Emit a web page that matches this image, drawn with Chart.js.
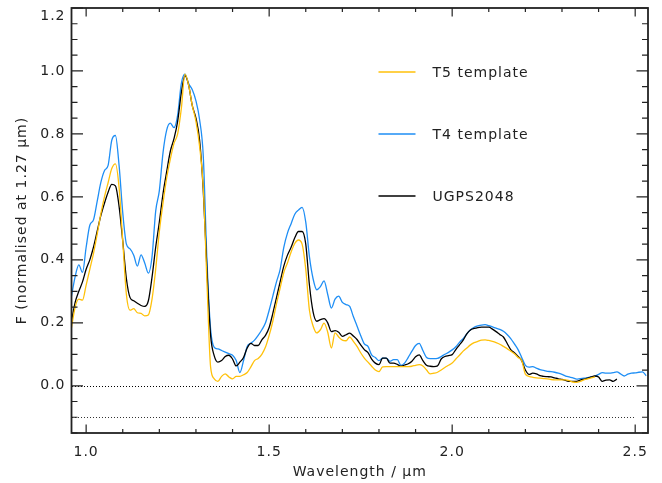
<!DOCTYPE html>
<html lang="en">
<head>
    <meta charset="UTF-8">
    <title>UGPS2048 spectrum vs T4/T5 templates</title>
    <style>
        html, body { margin: 0; padding: 0; background: #fff; }
        #wrap { width: 662px; height: 483px; }
    </style>
</head>
<body>
    <div id="wrap">
        <canvas id="spectrumChart" width="662" height="483"></canvas>
    </div>

    <script src="https://cdn.jsdelivr.net/npm/chart.js"></script>

    <script>
        // wavelength grid (micron)
        const wavelength = [
            0.96, 0.97, 0.98, 0.99, 1.00, 1.01, 1.02, 1.03, 1.04, 1.05,
            1.06, 1.07, 1.08, 1.09, 1.10, 1.11, 1.12, 1.13, 1.14, 1.15,
            1.16, 1.17, 1.18, 1.19, 1.20, 1.21, 1.22, 1.23, 1.24, 1.25,
            1.26, 1.27, 1.28, 1.29, 1.30, 1.31, 1.32, 1.33, 1.34, 1.35,
            1.36, 1.37, 1.38, 1.39, 1.40, 1.41, 1.42, 1.43, 1.44, 1.45,
            1.46, 1.47, 1.48, 1.49, 1.50, 1.51, 1.52, 1.53, 1.54, 1.55,
            1.56, 1.57, 1.58, 1.59, 1.60, 1.61, 1.62, 1.63, 1.64, 1.65,
            1.66, 1.67, 1.68, 1.69, 1.70, 1.71, 1.72, 1.73, 1.74, 1.75,
            1.76, 1.77, 1.78, 1.79, 1.80, 1.81, 1.82, 1.83, 1.84, 1.85,
            1.86, 1.87, 1.88, 1.89, 1.90, 1.91, 1.92, 1.93, 1.94, 1.95,
            1.96, 1.97, 1.98, 1.99, 2.00, 2.01, 2.02, 2.03, 2.04, 2.05,
            2.06, 2.07, 2.08, 2.09, 2.10, 2.11, 2.12, 2.13, 2.14, 2.15,
            2.16, 2.17, 2.18, 2.19, 2.20, 2.21, 2.22, 2.23, 2.24, 2.25,
            2.26, 2.27, 2.28, 2.29, 2.30, 2.31, 2.32, 2.33, 2.34, 2.35,
            2.36, 2.37, 2.38, 2.39, 2.40, 2.41, 2.42, 2.43, 2.44, 2.45,
            2.46, 2.47, 2.48, 2.49, 2.50, 2.51, 2.52, 2.53
        ];

        const t5Template = [
            0.185, 0.250, 0.275, 0.272, 0.320, 0.370, 0.420, 0.480, 0.545, 0.600,
            0.645, 0.690, 0.705, 0.630, 0.460, 0.290, 0.240, 0.245, 0.232, 0.230,
            0.222, 0.225, 0.275, 0.370, 0.490, 0.580, 0.660, 0.720, 0.770, 0.800,
            0.880, 0.990, 0.955, 0.890, 0.840, 0.760, 0.630, 0.330, 0.060, 0.022,
            0.014, 0.030, 0.038, 0.028, 0.022, 0.030, 0.030, 0.035, 0.042, 0.060,
            0.080, 0.087, 0.100, 0.123, 0.160, 0.205, 0.260, 0.310, 0.360, 0.390,
            0.425, 0.452, 0.463, 0.450, 0.370, 0.240, 0.190, 0.168, 0.178, 0.199,
            0.170, 0.120, 0.168, 0.155, 0.145, 0.143, 0.155, 0.141, 0.125, 0.105,
            0.088, 0.075, 0.062, 0.050, 0.045, 0.060, 0.061, 0.061, 0.061, 0.061,
            0.061, 0.061, 0.061, 0.062, 0.065, 0.067, 0.063, 0.050, 0.038, 0.040,
            0.043, 0.050, 0.058, 0.065, 0.072, 0.085, 0.097, 0.110, 0.120, 0.130,
            0.137, 0.141, 0.145, 0.146, 0.144, 0.141, 0.137, 0.132, 0.125, 0.118,
            0.110, 0.102, 0.090, 0.080, 0.037, 0.030, 0.027, 0.025, 0.024, 0.023,
            0.022, 0.020, 0.019, 0.019, 0.019, 0.019, 0.016, 0.012, 0.011, 0.014,
            0.019, 0.022, 0.025, 0.028, null, null, null, null, null, null,
            null, null, null, null, null, null, null, null
        ];

        const t4Template = [
            0.285, 0.347, 0.384, 0.360, 0.440, 0.510, 0.527, 0.585, 0.645, 0.683,
            0.700, 0.780, 0.795, 0.700, 0.550, 0.450, 0.435, 0.415, 0.380, 0.416,
            0.390, 0.358, 0.410, 0.555, 0.620, 0.740, 0.812, 0.834, 0.820, 0.860,
            0.960, 0.990, 0.960, 0.940, 0.905, 0.845, 0.730, 0.400, 0.180, 0.122,
            0.117, 0.112, 0.107, 0.102, 0.097, 0.080, 0.042, 0.080, 0.125, 0.135,
            0.145, 0.160, 0.178, 0.200, 0.240, 0.285, 0.330, 0.370, 0.440, 0.485,
            0.515, 0.545, 0.558, 0.567, 0.520, 0.410, 0.340, 0.305, 0.315, 0.333,
            0.290, 0.247, 0.275, 0.285, 0.265, 0.258, 0.252, 0.220, 0.190, 0.160,
            0.133, 0.125, 0.098, 0.090, 0.080, 0.088, 0.088, 0.078, 0.083, 0.083,
            0.065, 0.072, 0.090, 0.110, 0.128, 0.135, 0.112, 0.090, 0.086, 0.086,
            0.087, 0.093, 0.100, 0.106, 0.114, 0.124, 0.138, 0.150, 0.165, 0.178,
            0.186, 0.190, 0.193, 0.194, 0.191, 0.187, 0.183, 0.179, 0.173, 0.163,
            0.150, 0.133, 0.115, 0.090, 0.065, 0.059, 0.061, 0.056, 0.051, 0.049,
            0.046, 0.045, 0.043, 0.040, 0.036, 0.031, 0.028, 0.025, 0.021, 0.023,
            0.024, 0.026, 0.028, 0.031, 0.036, 0.042, 0.040, 0.040, 0.042, 0.044,
            0.038, 0.031, 0.037, 0.040, 0.041, 0.043, 0.044, 0.032
        ];

        const ugps2048 = [
            0.205, 0.265, 0.300, 0.330, 0.370, 0.400, 0.440, 0.490, 0.540, 0.580,
            0.615, 0.640, 0.635, 0.570, 0.460, 0.340, 0.280, 0.270, 0.262, 0.255,
            0.252, 0.270, 0.345, 0.440, 0.520, 0.610, 0.680, 0.745, 0.785, 0.840,
            0.930, 0.985, 0.955, 0.890, 0.850, 0.780, 0.620, 0.370, 0.160, 0.095,
            0.075, 0.080, 0.093, 0.097, 0.085, 0.063, 0.075, 0.090, 0.120, 0.135,
            0.128, 0.128, 0.146, 0.160, 0.185, 0.230, 0.280, 0.330, 0.380, 0.415,
            0.440, 0.470, 0.490, 0.490, 0.450, 0.320, 0.235, 0.205, 0.210, 0.213,
            0.200, 0.172, 0.175, 0.170, 0.157, 0.162, 0.167, 0.158, 0.147, 0.130,
            0.115, 0.105, 0.085, 0.072, 0.067, 0.088, 0.088, 0.072, 0.072, 0.068,
            0.062, 0.066, 0.070, 0.078, 0.092, 0.098, 0.080, 0.065, 0.062, 0.061,
            0.063, 0.085, 0.093, 0.096, 0.099, 0.115, 0.130, 0.145, 0.165, 0.177,
            0.182, 0.185, 0.186, 0.186, 0.186, 0.180, 0.172, 0.163, 0.155, 0.135,
            0.115, 0.105, 0.093, 0.080, 0.050, 0.036, 0.040, 0.038, 0.032, 0.030,
            0.029, 0.028, 0.025, 0.022, 0.020, 0.017, 0.014, 0.014, 0.014, 0.018,
            0.021, 0.024, 0.028, 0.031, 0.028, 0.014, 0.018, 0.019, 0.014, 0.021,
            null, null, null, null, null, null, null, null
        ];

        const xTicks = [1.0, 1.5, 2.0, 2.5];
        const yTicks = [0.0, 0.2, 0.4, 0.6, 0.8, 1.0, 1.2];
        const refLevels = [0.0, -0.1];     // dotted guide lines
        const refEnds = [2.5, 2.5];
        const refColors = ['#000', '#333'];

        const seriesNames = ['T5 template', 'T4 template', 'UGPS2048'];
        const seriesColors = ['#ffc10a', '#1e8ef5', '#000000'];

        const FONT = '"DejaVu Sans", sans-serif';
        const INK = '#222';

        function toPoints(values) {
            return wavelength.map((w, i) => ({ x: w, y: values[i] })).filter(p => p.y !== null);
        }

        // IDL-style box: ticks pointing inward on all four sides, dotted guides, legend
        const idlFrame = {
            id: 'idlFrame',
            beforeDraw(chart) {
                chart.ctx.letterSpacing = '1px';
            },
            beforeDatasetsDraw(chart) {
                const { ctx, chartArea: a, scales: { x, y } } = chart;
                ctx.save();
                ctx.lineWidth = 1;
                ctx.setLineDash([1, 2]);
                refLevels.forEach((lv, i) => {
                    const py = Math.round(y.getPixelForValue(lv)) + 0.5;
                    ctx.strokeStyle = refColors[i];
                    ctx.beginPath();
                    ctx.moveTo(Math.round(a.left), py);
                    ctx.lineTo(Math.round(x.getPixelForValue(refEnds[i])), py);
                    ctx.stroke();
                });
                ctx.restore();
            },
            afterDatasetsDraw(chart) {
                const { ctx, chartArea: a, scales: { x, y } } = chart;
                ctx.save();
                ctx.strokeStyle = INK;
                ctx.lineWidth = 1.2;

                // x ticks, bottom and top
                for (let k = 10; k <= 25; k++) {
                    const v = k / 10;
                    const px = x.getPixelForValue(v);
                    const len = (k % 5 === 0) ? 8.5 : 4;
                    ctx.beginPath();
                    ctx.moveTo(px, a.bottom); ctx.lineTo(px, a.bottom - len);
                    ctx.moveTo(px, a.top); ctx.lineTo(px, a.top + len);
                    ctx.stroke();
                }
                // y ticks, left and right
                for (let k = -3; k <= 24; k++) {
                    const v = k / 20;
                    const py = y.getPixelForValue(v);
                    const len = (k % 4 === 0) ? 11.5 : 6;
                    ctx.beginPath();
                    ctx.moveTo(a.left, py); ctx.lineTo(a.left + len, py);
                    ctx.moveTo(a.right, py); ctx.lineTo(a.right - len, py);
                    ctx.stroke();
                }

                ctx.lineWidth = 1.8;
                ctx.strokeRect(a.left, a.top, a.right - a.left, a.bottom - a.top);

                // legend
                ctx.font = '14px ' + FONT;
                ctx.letterSpacing = '1px';
                ctx.textBaseline = 'middle';
                ctx.textAlign = 'left';
                seriesNames.forEach((name, i) => {
                    const ly = a.top + 64 + i * 62;
                    ctx.strokeStyle = seriesColors[i];
                    ctx.lineWidth = 1.4;
                    ctx.beginPath();
                    ctx.moveTo(a.left + 307, ly);
                    ctx.lineTo(a.left + 344, ly);
                    ctx.stroke();
                    ctx.fillStyle = INK;
                    ctx.fillText(name, a.left + 361, ly + 1);
                });
                ctx.restore();
            }
        };

        const ctx = document.getElementById('spectrumChart').getContext('2d');
        const chart = new Chart(ctx, {
            type: 'line',
            data: {
                datasets: [
                    { label: seriesNames[0], data: toPoints(t5Template), borderColor: seriesColors[0] },
                    { label: seriesNames[2], data: toPoints(ugps2048), borderColor: seriesColors[2] },
                    { label: seriesNames[1], data: toPoints(t4Template), borderColor: seriesColors[1] }
                ]
            },
            options: {
                responsive: false,
                animation: false,
                layout: { padding: { left: 0, top: 8, right: 14, bottom: 0 } },
                elements: {
                    point: { radius: 0 },
                    line: { borderWidth: 1.3, cubicInterpolationMode: 'monotone', fill: false }
                },
                plugins: {
                    legend: { display: false },
                    tooltip: { enabled: false }
                },
                scales: {
                    x: {
                        type: 'linear',
                        min: 0.96,
                        max: 2.535,
                        afterBuildTicks: s => { s.ticks = xTicks.map(v => ({ value: v })); },
                        afterFit: s => {
                            s.height = 50;
                            s.paddingLeft = 0; s.paddingRight = 0;
                        },
                        grid: { display: false, drawTicks: false },
                        border: { display: false },
                        ticks: {
                            padding: 11,
                            color: INK,
                            font: { family: FONT, size: 14 },
                            maxRotation: 0,
                            callback: v => v.toFixed(1)
                        },
                        title: {
                            display: true,
                            text: 'Wavelength / μm',
                            color: INK,
                            font: { family: FONT, size: 14 },
                            padding: { top: 0, bottom: 2 }
                        }
                    },
                    y: {
                        type: 'linear',
                        min: -0.15,
                        max: 1.2,
                        afterBuildTicks: s => { s.ticks = yTicks.map(v => ({ value: v })); },
                        afterFit: s => {
                            s.width = 71.5;
                            s.paddingTop = 0; s.paddingBottom = 0;
                        },
                        grid: { display: false, drawTicks: false },
                        border: { display: false },
                        ticks: {
                            padding: 6,
                            color: INK,
                            font: { family: FONT, size: 14 },
                            // top label sits just inside the box, as in the original plot
                            callback: v => v === 1.2 ? ['', v.toFixed(1)] : v.toFixed(1)
                        },
                        title: {
                            display: true,
                            text: 'F (normalised at 1.27 μm)',
                            color: INK,
                            font: { family: FONT, size: 14 },
                            padding: { top: 14, bottom: 0 }
                        }
                    }
                }
            },
            plugins: [idlFrame]
        });
    </script>
</body>
</html>
